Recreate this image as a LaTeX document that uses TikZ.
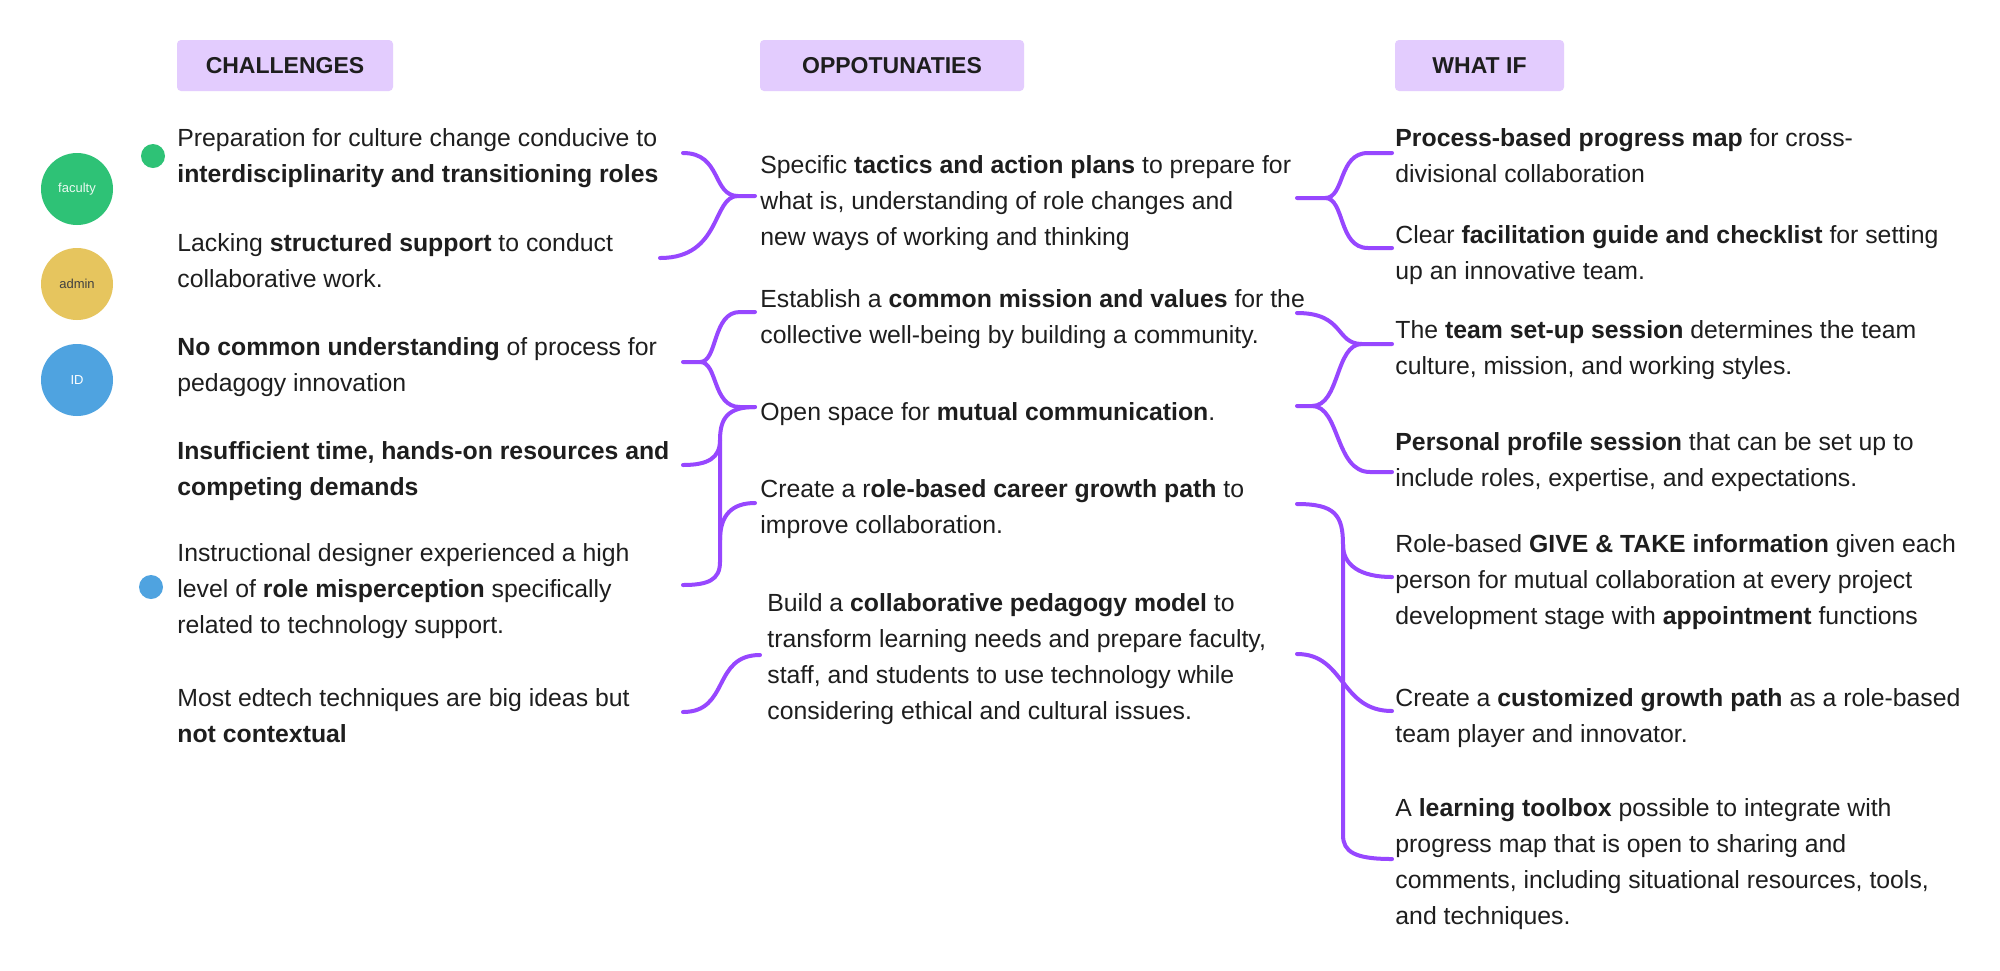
\documentclass[tikz,border=0pt]{standalone}
\usepackage{fontspec}
\setmainfont{Liberation Sans}
\definecolor{ink}{HTML}{1E1E1E}
\definecolor{lilac}{HTML}{E3CCFE}
\definecolor{brace}{HTML}{9747FF}
\definecolor{facgreen}{HTML}{2EC276}
\definecolor{admyellow}{HTML}{E6C55E}
\definecolor{idblue}{HTML}{4FA3E0}

\begin{document}
\begin{tikzpicture}[x=0.5pt,y=-0.5pt,
    item/.style={anchor=base west, align=left, inner sep=0pt, text=ink,
      font=\fontsize{12.4}{17.85}\selectfont},
    head/.style={fill=lilac, rounded corners=2pt, inner sep=0pt, minimum height=25.5pt,
      text=ink, font=\fontsize{11.5}{14}\selectfont\bfseries},
    link/.style={brace, line width=2pt, line cap=round},
    role/.style={circle, minimum size=36pt, inner sep=0pt, font=\fontsize{6.5}{7}\selectfont},
    tag/.style={circle, minimum size=12pt, inner sep=0pt}]

    \fill[white] (0,0) rectangle (2000,970);
    \useasboundingbox (0,0) rectangle (2000,970);

    % column heads
    \node[head, minimum width=108pt] (hChal) at (285,65.5) {CHALLENGES};
    \node[head, minimum width=132pt] (hOpp) at (892,65.5) {OPPOTUNATIES};
    \node[head, minimum width=84.5pt] (hWhat) at (1479.5,65.5) {WHAT IF};

    % roles
    \node[role, fill=facgreen, text=white!90!facgreen] (faculty) at (77,189) {faculty};
    \node[role, fill=admyellow, text=ink!85] (admin) at (77,284) {admin};
    \node[role, fill=idblue, text=white] (idc) at (77,380) {ID};
    \node[tag, fill=facgreen] (dotF) at (153,156) {};
    \node[tag, fill=idblue] (dotI) at (151,587) {};

    % challenges (placed by the baseline of their last line)
    \node[item] (chal1) at (177,182) {Preparation for culture change conducive to\\\textbf{interdisciplinarity and transitioning roles}};
    \node[item] (chal2) at (177,287) {Lacking \textbf{structured support} to conduct\\collaborative work.};
    \node[item] (chal3) at (177,391) {\textbf{No common understanding} of process for\\pedagogy innovation};
    \node[item] (chal4) at (177,495) {\textbf{Insufficient time, hands-on resources and}\\\textbf{competing demands}};
    \node[item] (chal5) at (177,633) {Instructional designer experienced a high\\level of \textbf{role misperception} specifically\\related to technology support.};
    \node[item] (chal6) at (177,742) {Most edtech techniques are big ideas but\\\textbf{not contextual}};

    % opportunities
    \node[item] (opp1) at (760,245) {Specific \textbf{tactics and action plans} to prepare for\\what is, understanding of role changes and\\new ways of working and thinking};
    \node[item] (opp2) at (760,343) {Establish a \textbf{common mission and values} for the\\collective well-being by building a community.};
    \node[item] (opp3) at (760,420) {Open space for \textbf{mutual communication}.};
    \node[item] (opp4) at (760,533) {Create a r\textbf{ole-based career growth path} to\\improve collaboration.};
    \node[item] (opp5) at (767,719) {Build a \textbf{collaborative pedagogy model} to\\transform learning needs and prepare faculty,\\staff, and students to use technology while\\considering ethical and cultural issues.};

    % what if
    \node[item] (what1) at (1395,182) {\textbf{Process-based progress map} for cross-\\divisional collaboration};
    \node[item] (what2) at (1395,279) {Clear \textbf{facilitation guide and checklist} for setting\\up an innovative team.};
    \node[item] (what3) at (1395,374) {The \textbf{team set-up session} determines the team\\culture, mission, and working styles.};
    \node[item] (what4) at (1395,486) {\textbf{Personal profile session} that can be set up to\\include roles, expertise, and expectations.};
    \node[item] (what5) at (1395,624) {Role-based \textbf{GIVE \& TAKE information} given each\\person for mutual collaboration at every project\\development stage with \textbf{appointment} functions};
    \node[item] (what6) at (1395,742) {Create a \textbf{customized growth path} as a role-based\\team player and innovator.};
    \node[item] (what7) at (1395,924) {A \textbf{learning toolbox} possible to integrate with\\progress map that is open to sharing and\\comments, including situational resources, tools,\\and techniques.};

    % brace ends, challenges -> opportunities
    \coordinate (a1) at (683,153);
    \coordinate (a2) at (660,258);
    \coordinate (ja) at (738,196);
    \coordinate (a3) at (755,196);
    \coordinate (b1) at (683,362);
    \coordinate (jb) at (700,362);
    \coordinate (b2) at (755,312);
    \coordinate (b3) at (755,407);
    \coordinate (c1) at (683,465);
    \coordinate (c2) at (683,585);
    \coordinate (c3) at (755,503);
    \coordinate (s1) at (720,440);
    \coordinate (s2) at (720,562);
    \coordinate (s3) at (720,540);
    \coordinate (d1) at (683,712);
    \coordinate (d2) at (760,655);

    \draw[link] (a1) .. controls (722,153) and (712,196) .. (ja) -- (a3);
    \draw[link] (a2) .. controls (722,258) and (712,196) .. (ja);
    \draw[link] (b1) -- (jb) .. controls (718,362) and (712,312) .. (740,312) -- (b2);
    \draw[link] (jb) .. controls (718,362) and (712,407) .. (740,407) -- (b3);
    \draw[link] (b3) .. controls (728,407) and (720,418) .. (s1) -- (s2) .. controls (720,580) and (708,585) .. (c2);
    \draw[link] (c1) .. controls (708,465) and (720,458) .. (s1);
    \draw[link] (s3) .. controls (720,515) and (732,503) .. (c3);
    \draw[link] (d1) .. controls (730,712) and (712,655) .. (d2);

    % brace ends, opportunities -> what if
    \coordinate (e1) at (1297,198);
    \coordinate (je) at (1325,198);
    \coordinate (e2) at (1392,153);
    \coordinate (e3) at (1392,248);
    \coordinate (f1) at (1297,313);
    \coordinate (kf) at (1362,344);
    \coordinate (f2) at (1392,344);
    \coordinate (f3) at (1297,406);
    \coordinate (jf) at (1312,406);
    \coordinate (f4) at (1392,472);
    \coordinate (g1) at (1297,504);
    \coordinate (t1) at (1343,545);
    \coordinate (t2) at (1343,835);
    \coordinate (g2) at (1392,577);
    \coordinate (g3) at (1392,859);
    \coordinate (h1) at (1297,654);
    \coordinate (h2) at (1392,711);

    \draw[link] (e1) -- (je) .. controls (1345,198) and (1338,153) .. (1368,153) -- (e2);
    \draw[link] (je) .. controls (1345,198) and (1338,248) .. (1368,248) -- (e3);
    \draw[link] (f1) .. controls (1345,313) and (1335,344) .. (kf) -- (f2);
    \draw[link] (f3) -- (jf) .. controls (1340,406) and (1335,344) .. (kf);
    \draw[link] (jf) .. controls (1340,406) and (1335,472) .. (1370,472) -- (f4);
    \draw[link] (g1) .. controls (1335,504) and (1343,515) .. (t1) -- (t2) .. controls (1343,852) and (1355,859) .. (g3);
    \draw[link] (t1) .. controls (1343,565) and (1360,577) .. (g2);
    \draw[link] (h1) .. controls (1345,654) and (1340,711) .. (h2);

\end{tikzpicture}
\end{document}
